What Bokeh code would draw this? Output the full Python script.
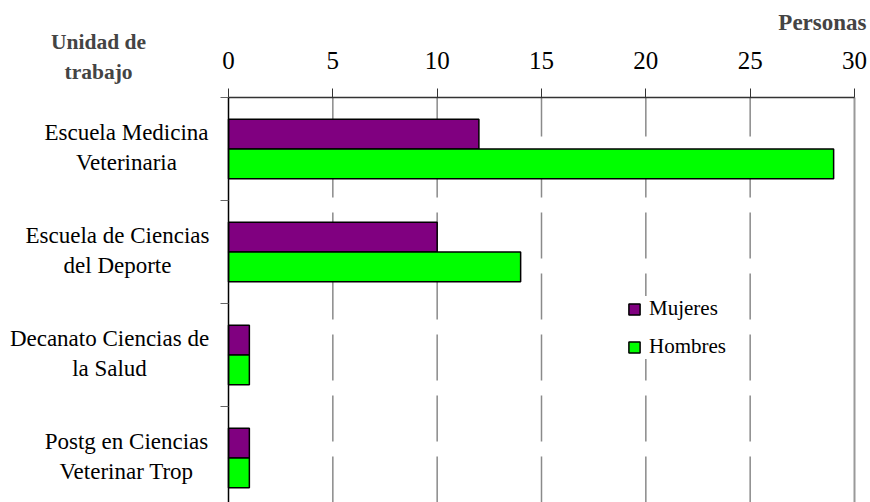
from bokeh.plotting import figure
from bokeh.models import (Range1d, FixedTicker, Label, LabelSet, Legend, LegendItem,
                          ColumnDataSource)
from bokeh.transform import dodge
from bokeh.core.properties import value
from bokeh.embed import file_html
from bokeh.resources import INLINE

# ---- data ----
categories = ["Escuela Medicina\nVeterinaria",
              "Escuela de Ciencias\ndel Deporte",
              "Decanato Ciencias de\nla Salud",
              "Postg en Ciencias\nVeterinar Trop"]
mujeres = [12, 10, 1, 1]
hombres = [29, 14, 1, 1]
x_ticks = [0, 5, 10, 15, 20, 25, 30]
x_title = "Personas"
y_title = ["Unidad de", "trabajo"]
series_names = ["Mujeres", "Hombres"]
colors = ["#800080", "#00FF00"]

# ---- layout (pixels) ----
W, H = 870, 502
PL, PR, PT = 228, 854, 97      # plot area left/right/top in pixels
BAND = 103                     # pixel height of one category band
FONT = "Liberation Serif"
# horizontal centre of each (right-aligned, centred-line) label block, px from axis
label_dx = [-102, -111, -119, -102]

n = len(categories)
xmin, xmax = x_ticks[0], x_ticks[-1]
upp = (xmax - xmin) / (PR - PL)
x_start = xmin - PL * upp
x_end = xmax + (W - PR) * upp
y_start = n - (H - PT) / BAND
y_end = n + PT / BAND

ypos = [n - i - 0.5 for i in range(n)]
line1 = [c.split("\n")[0] for c in categories]
line2 = [c.split("\n")[1] for c in categories]
src = ColumnDataSource(dict(y=ypos, l1=line1, l2=line2, m=mujeres, h=hombres,
                            zero=[0] * n, dx=label_dx))

p = figure(width=W, height=H, output_backend="svg", toolbar_location=None,
           x_range=Range1d(x_start, x_end), y_range=Range1d(y_start, y_end),
           x_axis_location="above", min_border=0)
p.outline_line_color = None
p.xgrid.visible = False
p.ygrid.visible = False

# grid lines (dashed) and right edge
grid_x = x_ticks[1:-1]
p.segment(x0=grid_x, x1=grid_x, y0=[y_start] * len(grid_x), y1=[n] * len(grid_x),
          line_color="#8a8a8a", line_width=1.5, line_dash="46 15")
p.segment(x0=[xmax], x1=[xmax], y0=[y_start], y1=[n], line_color="#999999",
          line_width=2)

# bars
rm = p.hbar(y=dodge("y", 0.145, range=p.y_range), left="zero", right="m", height=0.29,
            fill_color=colors[0], line_color="black", line_width=1.5, source=src)
rh = p.hbar(y=dodge("y", -0.145, range=p.y_range), left="zero", right="h", height=0.29,
            fill_color=colors[1], line_color="black", line_width=1.5, source=src)

# x axis (top), fixed at top of category area
xa = p.xaxis[0]
xa.fixed_location = n
xa.bounds = (xmin, xmax)
xa.ticker = FixedTicker(ticks=x_ticks)
xa.major_tick_out = 9
xa.major_tick_in = 0
xa.minor_tick_line_color = None
xa.axis_line_color = "#333333"
xa.axis_line_width = 1.5
xa.major_tick_line_color = "#333333"
xa.major_label_text_font = FONT
xa.major_label_text_font_size = "25px"
xa.major_label_text_color = "black"
xa.major_label_standoff = 20

# y axis (left), fixed at x = 0, ticks at category boundaries
ya = p.yaxis[0]
ya.fixed_location = xmin
ya.bounds = (y_start, n)
ya.ticker = FixedTicker(ticks=list(range(n + 1)))
ya.major_label_overrides = {i: "" for i in range(n + 1)}
ya.major_tick_out = 8
ya.major_tick_in = 0
ya.minor_tick_line_color = None
ya.axis_line_color = "black"
ya.axis_line_width = 1.5
ya.major_tick_line_color = "#666666"

# category labels (two centred lines)
for col, off in (("l1", 17), ("l2", -13)):
    p.add_layout(LabelSet(x=xmin, y="y", text=col, source=src, x_offset="dx",
                          y_offset=off, text_align="center", text_baseline="middle",
                          text_font=value(FONT), text_font_size=value("23px"),
                          text_color="black"))

# axis titles
p.add_layout(Label(x=xmax, y=n, x_offset=12, y_offset=PT - 22, text=x_title,
                   text_align="right", text_baseline="middle", text_font=FONT,
                   text_font_size="23px", text_font_style="bold"))
for t, off in zip(y_title, (PT - 41, PT - 71)):
    p.add_layout(Label(x=xmin, y=n, x_offset=-130, y_offset=off, text=t,
                       text_align="center", text_baseline="middle", text_font=FONT,
                       text_font_size="21.5px", text_font_style="bold"))

# legend
legend = Legend(items=[LegendItem(label=series_names[0], renderers=[rm]),
                       LegendItem(label=series_names[1], renderers=[rh])],
                location=(627, 143), orientation="vertical",
                glyph_width=14, glyph_height=14, label_standoff=8, spacing=13,
                padding=8, margin=0, border_line_color=None,
                background_fill_color="white", background_fill_alpha=1.0,
                label_text_font=FONT, label_text_font_size="21px",
                label_text_color="black", label_height=23)
p.add_layout(legend)

open("out.html", "w").write(file_html(p, INLINE))
